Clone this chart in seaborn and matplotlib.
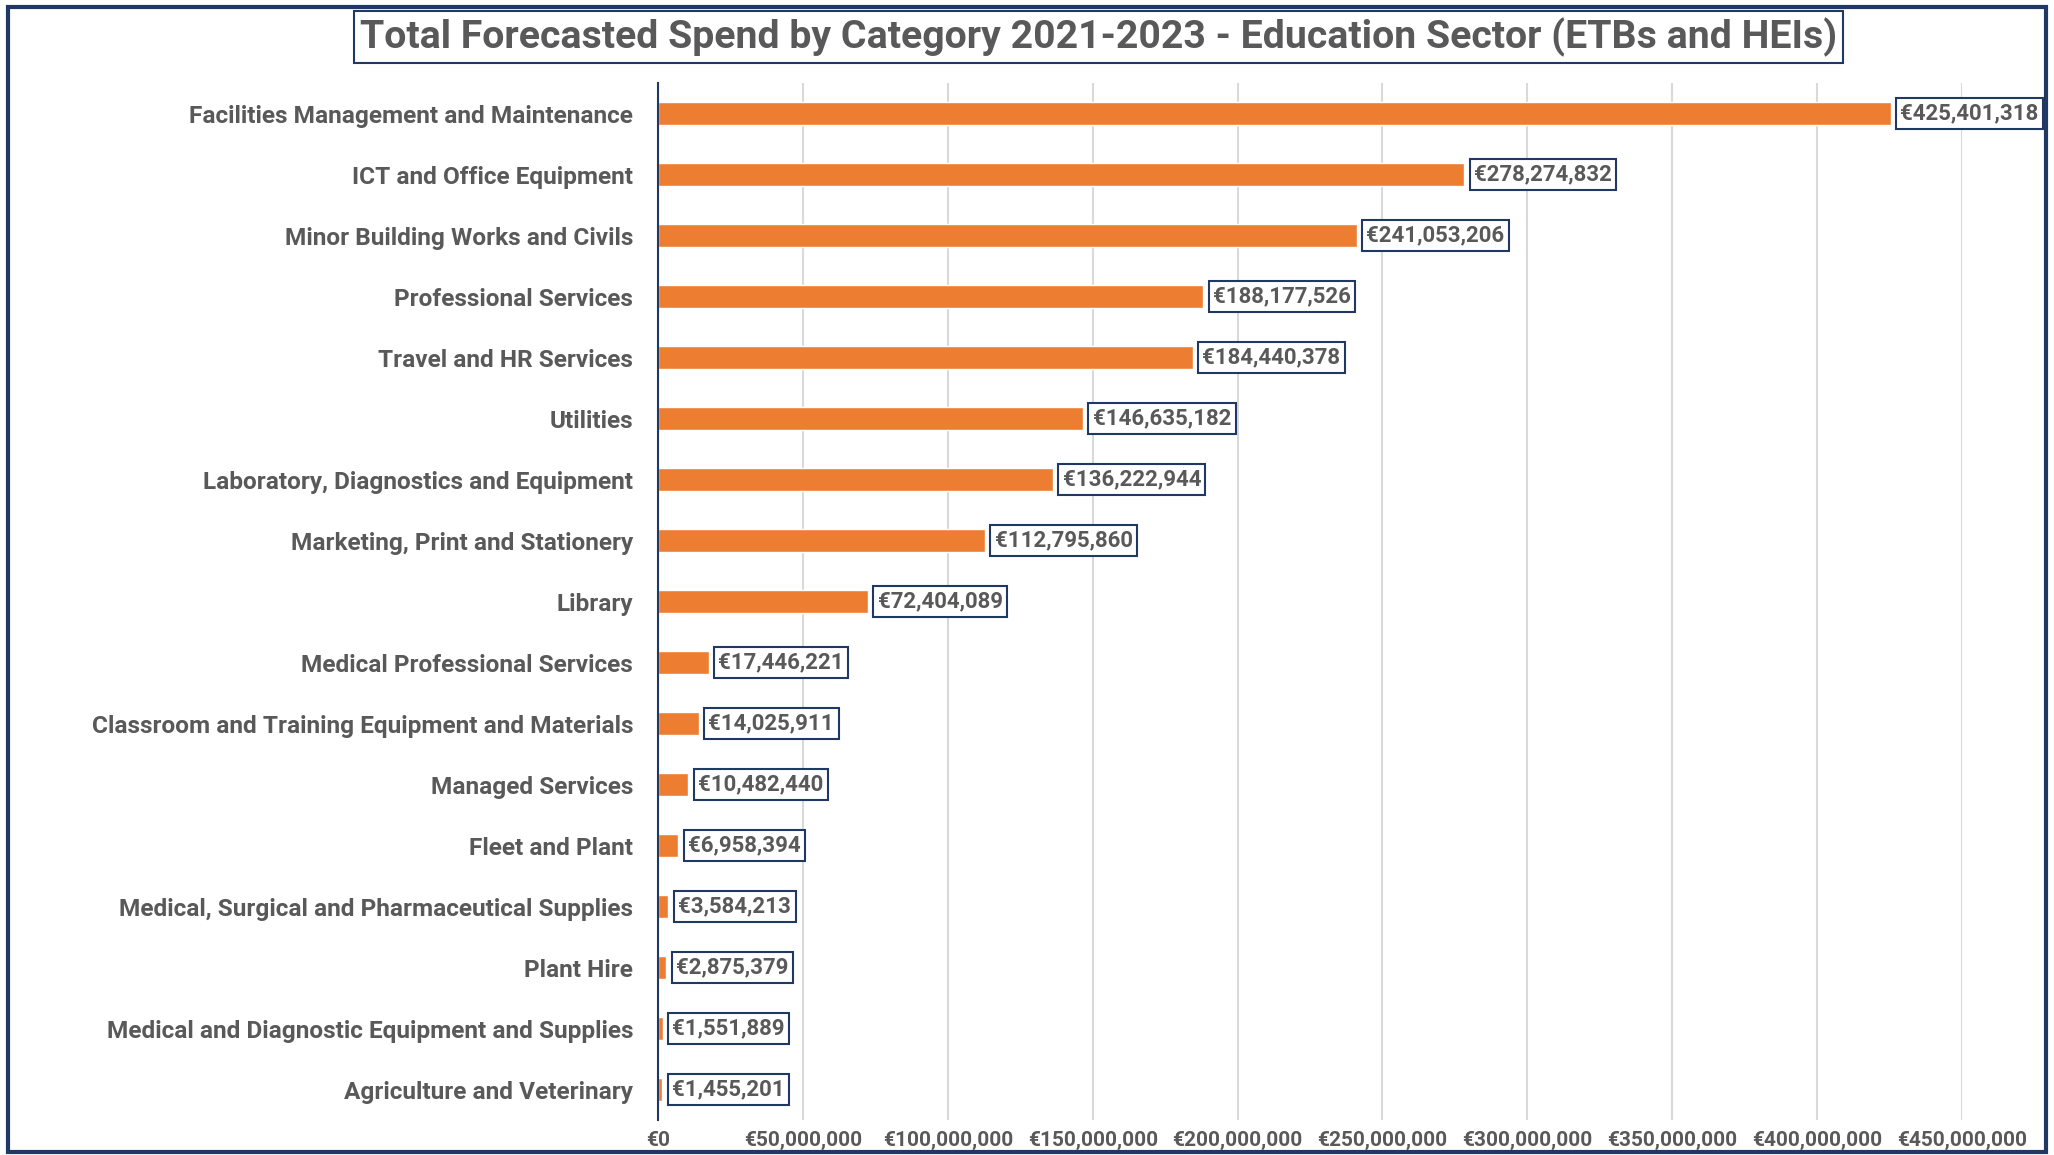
import matplotlib
matplotlib.use("Agg")
import matplotlib.pyplot as plt
import matplotlib.ticker as mticker
from matplotlib.patches import Rectangle
import seaborn as sns
import pandas as pd

categories = [
    "Facilities Management and Maintenance",
    "ICT and Office Equipment",
    "Minor Building Works and Civils",
    "Professional Services",
    "Travel and HR Services",
    "Utilities",
    "Laboratory, Diagnostics and Equipment",
    "Marketing, Print and Stationery",
    "Library",
    "Medical Professional Services",
    "Classroom and Training Equipment and Materials",
    "Managed Services",
    "Fleet and Plant",
    "Medical, Surgical and Pharmaceutical Supplies",
    "Plant Hire",
    "Medical and Diagnostic Equipment and Supplies",
    "Agriculture and Veterinary",
]
spend = [425401318, 278274832, 241053206, 188177526, 184440378, 146635182,
         136222944, 112795860, 72404089, 17446221, 14025911, 10482440,
         6958394, 3584213, 2875379, 1551889, 1455201]
x_ticks = list(range(0, 450000001, 50000000))

navy = "#1F3864"
grey = "#595959"
orange = "#ED7D31"

sns.set_style("white")
plt.rcParams['font.family'] = ['Roboto', 'DejaVu Sans']
plt.rcParams['font.weight'] = 'bold'

df = pd.DataFrame({"category": categories, "spend": spend})

fig = plt.figure(figsize=(20.54, 11.55), dpi=100)
ax = fig.add_axes([0.3204, 0.0303, 0.9552 - 0.3204, 0.928 - 0.0303])

sns.barplot(data=df, y="category", x="spend", color=orange, width=0.37,
            saturation=1, ax=ax, orient="h")

ax.set_xlim(0, 450000000)
ax.set_ylim(16.5, -0.5)
ax.set_xticks(x_ticks)
ax.xaxis.set_major_formatter(mticker.FuncFormatter(lambda v, p: "€{:,.0f}".format(v)))
ax.grid(axis="x", color="#D9D9D9", linewidth=1.5)
ax.set_axisbelow(True)
for s in ["top", "right", "bottom"]:
    ax.spines[s].set_visible(False)
ax.spines["left"].set_color(navy)
ax.spines["left"].set_linewidth(1.5)
ax.tick_params(axis="y", length=0, pad=18, labelsize=17.6, labelcolor=grey)
ax.tick_params(axis="x", length=0, pad=8, labelsize=15, labelcolor=grey)
ax.set_xlabel("")
ax.set_ylabel("")

ax.bar_label(ax.containers[0], labels=["€{:,.0f}".format(v) for v in spend],
             padding=7, fontsize=16, color=grey, fontweight="bold",
             bbox=dict(boxstyle="square,pad=0.2", fc="white", ec=navy, lw=1.5),
             clip_on=False)

fig.text(0.535, 0.968, "Total Forecasted Spend by Category 2021-2023 - Education Sector (ETBs and HEIs)",
         ha="center", va="center", fontsize=28.3, color=grey, fontweight="bold",
         bbox=dict(boxstyle="square,pad=0.15", fc="white", ec=navy, lw=1.5))

fig.patches.append(Rectangle((0.004, 0.003), 0.992, 0.991, transform=fig.transFigure,
                             fill=False, ec=navy, lw=3))

fig.savefig("out.png", dpi=100)
